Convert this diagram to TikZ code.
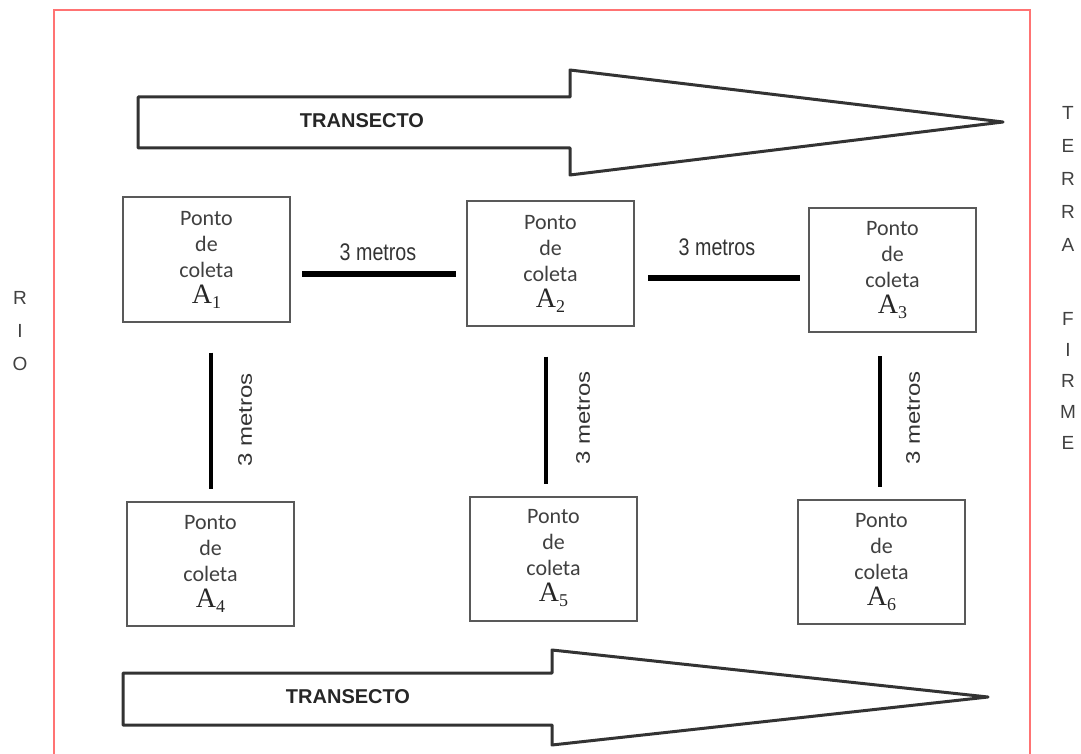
\documentclass[tikz,border=0pt]{standalone}
\usepackage{fontspec}
\usepackage{tikz}
\usetikzlibrary{calc}
\newfontfamily\boxfont{Carlito}
\newfontfamily\labfont{Liberation Sans}
\newfontfamily\serfont{Liberation Serif}
\newcommand{\ptname}[1]{{\serfont\fontsize{28}{28}\selectfont\color{black!85}A\raisebox{-5pt}{\fontsize{18}{18}\selectfont #1}}}
\newcommand{\ptbox}[1]{Ponto\\de\\coleta\\[0pt]\ptname{#1}}

\begin{document}
\begin{tikzpicture}[x=1pt, y=-1pt,
	frame/.style={draw=red!55, line width=1.6pt},
	arrowshape/.style={draw=black!80, line width=3pt, line join=round},
	pointbox/.style={draw=black!65, line width=2pt, minimum width=167pt, minimum height=124pt,
		align=center, text=black!75, font=\boxfont\fontsize{22}{26}\selectfont, inner sep=0pt},
	hbar/.style={line width=6pt, black},
	vbar/.style={line width=4pt, black},
	dist/.style={text=black!80, font=\labfont\fontsize{24}{24}\selectfont, xscale=0.82, inner sep=0pt},
	sidetext/.style={text=black!75, font=\labfont\fontsize{19}{19}\selectfont, inner sep=0pt}]

						\useasboundingbox (0, 0) rectangle (1081, 754);

						% moldura
						\draw[frame] (54, 754)--(54, 10)--(1030, 10)--(1030, 754);

						% setas do transecto
						\draw[arrowshape] (138, 97)--(570, 97)--(570, 70)--(1003, 122)--(570, 175)--(570, 148)--(138, 148)--cycle;
						\draw[arrowshape] (123, 673)--(552, 673)--(552, 650)--(988, 697)--(552, 745)--(552, 725)--(123, 725)--cycle;
						\node[font=\labfont\bfseries\fontsize{20}{20}\selectfont, text=black!85] (trtop) at (362, 121) {TRANSECTO};
						\node[font=\labfont\bfseries\fontsize{20}{20}\selectfont, text=black!85] (trbot) at (348, 697) {TRANSECTO};

						% pontos de coleta
						\node[pointbox] (A1) at (206.5, 259.5) {\ptbox{1}};
						\node[pointbox] (A2) at (550.5, 263.5) {\ptbox{2}};
						\node[pointbox] (A3) at (892.5, 270) {\ptbox{3}};
						\node[pointbox] (A4) at (210.5, 563.5) {\ptbox{4}};
						\node[pointbox] (A5) at (553.5, 558.5) {\ptbox{5}};
						\node[pointbox] (A6) at (881.5, 562) {\ptbox{6}};

						% distancias
						\draw[hbar, shorten <=11pt, shorten >=10pt] ([yshift=-14.5pt]A1.east)--([yshift=-14.5pt]A1.east -| A2.west);
						\draw[hbar, shorten <=13pt, shorten >=8pt] ([yshift=-14.5pt]A2.east)--([yshift=-14.5pt]A2.east -| A3.west);
						\draw[vbar, shorten <=30pt, shorten >=12pt] ([xshift=4.5pt]A1.south)--([xshift=4.5pt]A1.south |- A4.north);
						\draw[vbar, shorten <=30pt, shorten >=12pt] ([xshift=-4.5pt]A2.south)--([xshift=-4.5pt]A2.south |- A5.north);
						\draw[vbar, shorten <=23pt, shorten >=12pt] ([xshift=-12.5pt]A3.south)--([xshift=-12.5pt]A3.south |- A6.north);

						\node[dist] (d12) at (378, 252) {3 metros};
						\node[dist] (d23) at (717, 247) {3 metros};
						\node[dist, rotate=90] (d14) at (245, 420) {3 metros};
						\node[dist, rotate=90] (d25) at (583, 418) {3 metros};
						\node[dist, rotate=90] (d36) at (913, 418) {3 metros};

						% margens
						\foreach \ch [count=\i] in {R, I, O}
							\node[sidetext] (rio\i) at (20, 265+33*\i) {\ch};
						\foreach \ch [count=\i] in {T, E, R, R, A}
							\node[sidetext] (terra\i) at (1068, 80+33*\i) {\ch};
						\foreach \ch [count=\i] in {F, I, R, M, E}
							\node[sidetext] (firme\i) at (1068, 288+31*\i) {\ch};
					\end{tikzpicture}
\end{document}
